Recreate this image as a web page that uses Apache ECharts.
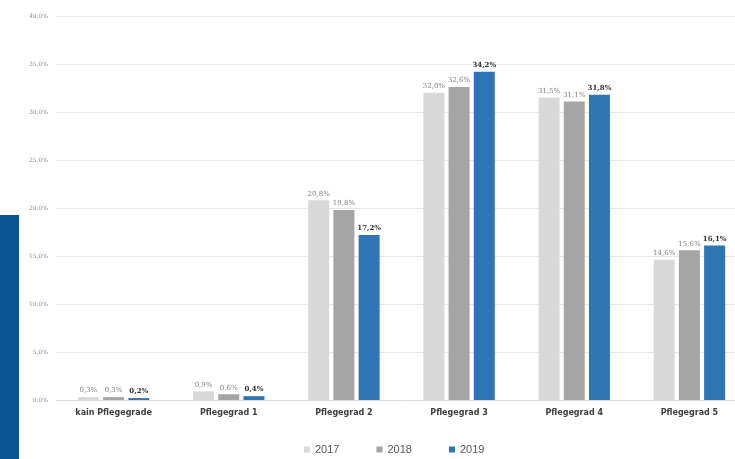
<!DOCTYPE html>
<html><head><meta charset="utf-8">
<script src="https://cdn.jsdelivr.net/npm/echarts@6/dist/echarts.min.js"></script>
<style>html,body{margin:0;padding:0;background:#fff;overflow:hidden}#c{width:748px;height:459px}</style>
</head><body><div id="c"></div>
<script>
var categories = ['kain Pflegegrade','Pflegegrad 1','Pflegegrad 2','Pflegegrad 3','Pflegegrad 4','Pflegegrad 5'];
var years = ['2017','2018','2019'];
var v2017 = [0.3, 0.9, 20.8, 32.0, 31.5, 14.6];
var v2018 = [0.3, 0.6, 19.8, 32.6, 31.1, 15.6];
var v2019 = [0.2, 0.4, 17.2, 34.2, 31.8, 16.1];
var colors = ['#d9d9d9','#a5a5a5','#2e75b6'];
function fmt(v){ return v.toFixed(1).replace('.', ',') + '%'; }
var chart = echarts.init(document.getElementById('c'));
function ser(name, data, color, bold){
  return {
    name: name, type: 'bar', data: data, barWidth: 21, barGap: '20%',
    itemStyle: {color: color},
    label: {show: true, position: 'top', distance: 3, formatter: function(p){return fmt(p.value);},
      fontSize: 7, fontFamily: 'DejaVu Serif', color: bold ? '#333' : '#7f7f7f', fontWeight: bold ? 'bold' : 'normal'}
  };
}
chart.setOption({
  animation: false,
  grid: {left: 56, top: 16, right: 1, bottom: 59, containLabel: false},
  graphic: [{type: 'rect', left: 0, top: 215, shape: {width: 19, height: 244}, style: {fill: '#0b5595'}}],
  legend: {bottom: -1, left: 299, itemWidth: 6, itemHeight: 6, itemGap: 37, icon: 'rect',
    textStyle: {fontSize: 11, color: '#595959', fontFamily: 'Liberation Sans'}, data: years},
  xAxis: {type: 'category', data: categories,
    axisLine: {lineStyle: {color: '#d9d9d9'}}, axisTick: {show: false},
    axisLabel: {fontSize: 8, fontWeight: 'bold', color: '#404040', margin: 9, fontFamily: 'DejaVu Sans'}},
  yAxis: {type: 'value', min: 0, max: 40, interval: 5,
    axisLabel: {formatter: function(v){return fmt(v);}, fontSize: 6, color: '#8c8c8c', margin: 8, fontFamily: 'DejaVu Serif'},
    splitLine: {lineStyle: {color: '#e6e6e6'}}, axisLine: {show: false}, axisTick: {show: false}},
  series: [ser(years[0], v2017, colors[0], false), ser(years[1], v2018, colors[1], false), ser(years[2], v2019, colors[2], true)]
});
</script></body></html>
